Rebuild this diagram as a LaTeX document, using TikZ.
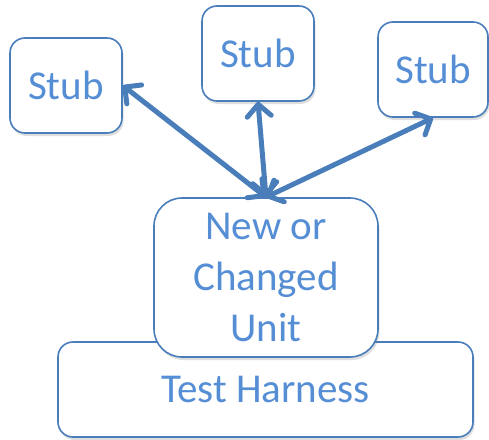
\documentclass[tikz,border=0pt]{standalone}
\usepackage{fontspec}
\setmainfont{Carlito}
\usetikzlibrary{arrows.meta,shadows}
\definecolor{boxline}{HTML}{4A7EBB}
\definecolor{boxtext}{HTML}{558ED5}
\begin{document}
\begin{tikzpicture}[x=1pt,y=-1pt,
  box/.style={draw=boxline, line width=1.6pt, fill=white, text=boxtext,
    font=\fontsize{41}{51}\selectfont, inner sep=0pt,
    drop shadow={shadow xshift=1.5pt, shadow yshift=-3pt, opacity=0.25, fill=black!50}},
  stubbox/.style={box, rounded corners=15pt, minimum width=112pt, minimum height=95pt},
  barb/.tip={Straight Barb[length=12pt, width=24pt, round]},
  link/.style={draw=boxline, line width=5pt, line cap=round, barb-barb}
]
\useasboundingbox (0,0) rectangle (489,439);

% stubs around the unit
\node[stubbox] (L) at (66,85.5) {Stub};
\node[stubbox] (M) at (258,53.5) {Stub};
\node[stubbox, minimum width=110pt] (R) at (433,69.5) {Stub};

% harness underneath, unit on top of it
\node[box, rounded corners=15pt, minimum width=415pt, minimum height=95pt] (H) at (265.5,389.5) {Test Harness};
\node[box, rounded corners=28pt, minimum width=224pt, minimum height=159pt, align=center] (U) at (266,277.5) {New or\\Changed\\Unit};

% calls between unit and stubs
\draw[link] (U.north) -- (L.east);
\draw[link] (U.north) -- (M.south);
\draw[link] (U.north) -- (R.south);
\end{tikzpicture}
\end{document}
